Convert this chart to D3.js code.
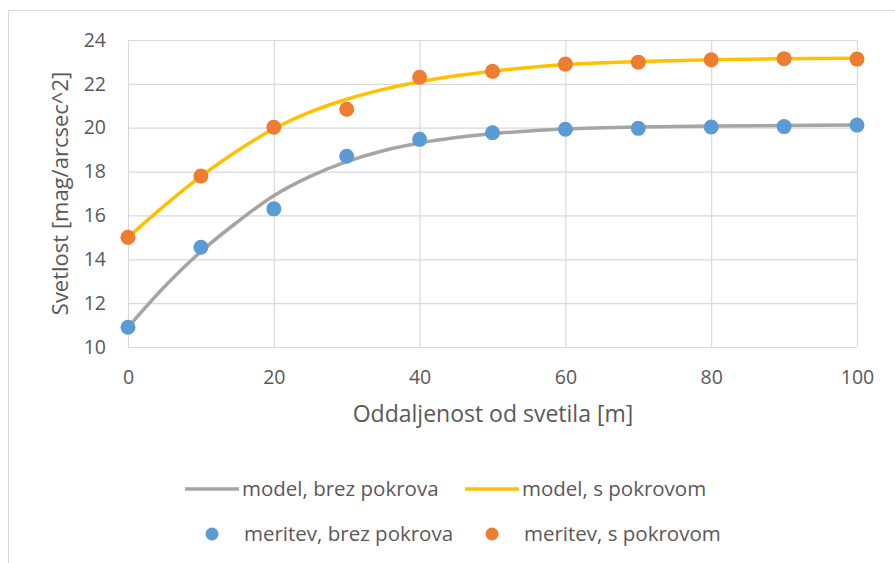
<!DOCTYPE html>
<html>
<head>
<meta charset="utf-8">
<script src="https://cdn.jsdelivr.net/npm/d3@7"></script>
<style>
  body { margin: 0; background: #fff; }
  text { font-family: "Open Sans", sans-serif; fill: #595959; }
</style>
</head>
<body>
<svg id="chart"></svg>
<script>
// razdalja od svetila [m] za meritve
const meritevX = [0, 10, 20, 30, 40, 50, 60, 70, 80, 90, 100];
const meritevBrez = [10.9, 14.55, 16.3, 18.7, 19.47, 19.77, 19.93, 19.97, 20.03, 20.05, 20.12];
const meritevS = [15.0, 17.8, 20.02, 20.84, 22.3, 22.57, 22.9, 22.99, 23.1, 23.15, 23.13];

// model (odcitano s krivulje)
const modelX = [0, 5, 10, 15, 20, 25, 30, 35, 40, 45, 50, 55, 60, 70, 80, 90, 100];
const modelBrez = [10.9, 12.75, 14.35, 15.7, 16.9, 17.78, 18.45, 18.95, 19.3, 19.55, 19.73, 19.85, 19.94, 20.03, 20.08, 20.1, 20.12];
const modelS = [15.0, 16.45, 17.78, 18.95, 19.95, 20.72, 21.3, 21.75, 22.1, 22.37, 22.58, 22.75, 22.88, 23.02, 23.1, 23.15, 23.17];

const xTicks = [0, 20, 40, 60, 80, 100];
const yTicks = [10, 12, 14, 16, 18, 20, 22, 24];

let width = 895,
    height = 563,
    plotLeft = 128,
    plotRight = 857,
    plotTop = 40,
    plotBottom = 347;

let gridColor = "#d9d9d9",
    lineWidth = 3.5,
    dotRadius = 7.5;

let svg = d3.select("#chart").attr("width", width).attr("height", height);

// okvir grafa
svg.append("rect")
    .attr("x", 8.5).attr("y", 10.5)
    .attr("width", 1000).attr("height", 1000)
    .attr("fill", "#fff")
    .attr("stroke", gridColor);

let x = d3.scaleLinear().domain([0, 100]).range([plotLeft, plotRight]);
let y = d3.scaleLinear().domain([10, 24]).range([plotBottom, plotTop]);

// mreza
svg.append("g")
    .attr("transform", `translate(0,${plotBottom})`)
    .call(d3.axisBottom(x).tickValues(xTicks).tickSize(-(plotBottom - plotTop)).tickFormat(""))
    .call(g => g.select(".domain").remove())
    .call(g => g.selectAll("line").attr("stroke", gridColor).attr("stroke-width", 1.2));

svg.append("g")
    .attr("transform", `translate(${plotLeft},0)`)
    .call(d3.axisLeft(y).tickValues(yTicks).tickSize(-(plotRight - plotLeft)).tickFormat(""))
    .call(g => g.select(".domain").remove())
    .call(g => g.selectAll("line").attr("stroke", gridColor).attr("stroke-width", 1.2));

// oznake osi
svg.append("g")
    .attr("transform", `translate(0,${plotBottom})`)
    .call(d3.axisBottom(x).tickValues(xTicks).tickSize(0).tickPadding(23))
    .call(g => g.select(".domain").remove())
    .call(g => g.selectAll("text").attr("font-size", 19.5).attr("font-family", "Open Sans").attr("fill", "#595959"));

svg.append("g")
    .attr("transform", `translate(${plotLeft},0)`)
    .call(d3.axisLeft(y).tickValues(yTicks).tickSize(0).tickPadding(22))
    .call(g => g.select(".domain").remove())
    .call(g => g.selectAll("text").attr("font-size", 19.5).attr("font-family", "Open Sans").attr("fill", "#595959"));

svg.append("text")
    .attr("x", 493)
    .attr("y", 414)
    .attr("text-anchor", "middle")
    .attr("dy", "0.35em")
    .attr("font-size", 23)
    .text("Oddaljenost od svetila [m]");

svg.append("text")
    .attr("transform", `translate(60,${(plotTop + plotBottom) / 2}) rotate(-90)`)
    .attr("text-anchor", "middle")
    .attr("dy", "0.35em")
    .attr("font-size", 22)
    .text("Svetlost [mag/arcsec^2]");

// modelne krivulje
let line = d3.line()
    .x(d => x(d[0]))
    .y(d => y(d[1]))
    .curve(d3.curveCatmullRom.alpha(0.5));

svg.append("path")
    .datum(modelX.map((v, i) => [v, modelBrez[i]]))
    .attr("fill", "none")
    .attr("stroke", "#a5a5a5")
    .attr("stroke-width", lineWidth)
    .attr("d", line);

svg.append("path")
    .datum(modelX.map((v, i) => [v, modelS[i]]))
    .attr("fill", "none")
    .attr("stroke", "#ffc000")
    .attr("stroke-width", lineWidth)
    .attr("d", line);

// meritve
svg.append("g")
    .selectAll("circle")
    .data(meritevX.map((v, i) => [v, meritevBrez[i]]))
    .enter().append("circle")
    .attr("cx", d => x(d[0]))
    .attr("cy", d => y(d[1]))
    .attr("r", dotRadius)
    .attr("fill", "#5b9bd5");

svg.append("g")
    .selectAll("circle")
    .data(meritevX.map((v, i) => [v, meritevS[i]]))
    .enter().append("circle")
    .attr("cx", d => x(d[0]))
    .attr("cy", d => y(d[1]))
    .attr("r", dotRadius)
    .attr("fill", "#ed7d31");

// legenda
let legend = svg.append("g");
let legendItems = [
    { label: "model, brez pokrova", type: "line", color: "#a5a5a5", x: 185, y: 489 },
    { label: "model, s pokrovom", type: "line", color: "#ffc000", x: 465, y: 489 },
    { label: "meritev, brez pokrova", type: "dot", color: "#5b9bd5", x: 185, y: 534 },
    { label: "meritev, s pokrovom", type: "dot", color: "#ed7d31", x: 465, y: 534 }
];

legendItems.forEach(function (d) {
    if (d.type == "line") {
        legend.append("line")
            .attr("x1", d.x).attr("x2", d.x + 54)
            .attr("y1", d.y).attr("y2", d.y)
            .attr("stroke", d.color)
            .attr("stroke-width", lineWidth);
    } else {
        legend.append("circle")
            .attr("cx", d.x + 27).attr("cy", d.y)
            .attr("r", 6.5)
            .attr("fill", d.color);
    }
    legend.append("text")
        .attr("x", d.type == "line" ? d.x + 57 : d.x + 59)
        .attr("y", d.y)
        .attr("dy", "0.35em")
        .attr("font-size", 20.5)
        .text(d.label);
});
</script>
</body>
</html>
